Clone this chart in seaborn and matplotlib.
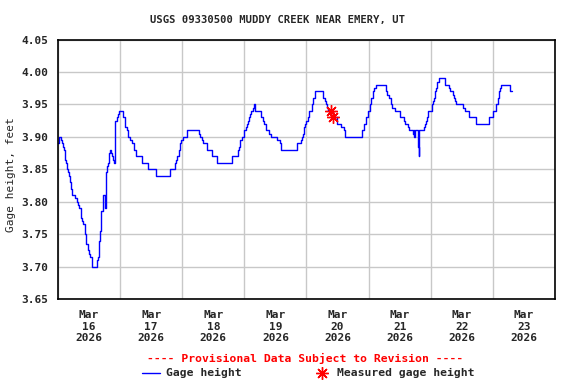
import pandas as pd
import seaborn as sns
import matplotlib.pyplot as plt
import matplotlib.dates as mdates
from matplotlib.lines import Line2D

# Gage height: hours after 2026-03-16 00:00, feet
gage_hours = [0, 0.3, 1.0, 1.5, 2.0, 2.3, 2.6, 3.1, 3.3, 3.7, 4.1, 4.5, 4.7, 4.9, 5.3, 5.6,
              6.7, 7.2, 7.7, 8.2, 8.7, 9.0, 9.4, 9.8, 10.3, 10.4, 10.8, 11.0, 11.4, 11.7,
              12.1, 12.3, 13.1, 13.3, 15.1, 15.4, 15.7, 15.9, 16.4, 16.7, 17.2, 18.1, 18.5,
              18.7, 19.0, 19.5, 19.8, 20.0, 20.5, 20.8, 21.3, 21.6, 21.9, 22.2, 22.6, 23.0,
              23.5, 25.0, 25.7, 26.0, 26.6, 26.9, 28.0, 28.6, 29.3, 30.0, 30.3, 32.3, 34.8,
              37.8, 43.2, 45.2, 45.5, 46.1, 46.6, 47.2, 47.6, 48.1, 49.8, 50.0, 54.4, 54.9,
              55.8, 56.2, 57.4, 59.5, 61.6, 67.1, 67.3, 69.4, 69.9, 70.3, 70.9, 71.7, 72.5,
              72.9, 73.3, 73.6, 74.2, 74.7, 75.4, 75.8, 76.1, 76.3, 78.4, 79.3, 79.7, 80.4,
              81.6, 82.1, 84.6, 85.6, 86.0, 86.3, 92.5, 92.8, 93.9, 94.3, 94.8, 95.2, 95.6,
              96.0, 96.4, 96.8, 98.3, 98.7, 99.1, 102.5, 103.0, 103.4, 103.9, 104.3, 106.1,
              107.7, 109.3, 110.6, 111.0, 117.4, 118.1, 118.4, 118.8, 119.1, 119.7, 120.6,
              121.0, 121.7, 122.2, 123.0, 126.7, 127.2, 128.0, 128.6, 129.2, 130.1, 132.0,
              133.5, 133.9, 135.2, 135.5, 137.0, 137.4, 137.7, 138.1, 139.0, 139.3, 139.5,
              141.3, 141.7, 142.1, 142.6, 143.1, 144.4, 144.9, 145.3, 145.7, 145.9, 146.4,
              147.1, 149.5, 151.0, 151.3, 152.5, 152.8, 153.4, 153.8, 156.6, 157.4, 158.7,
              161.4, 166.4, 167.9, 169.3, 169.8, 170.3, 170.7, 171.2, 174.6, 175.5]
gage_values = [3.89, 3.90, 3.895, 3.89, 3.885, 3.88, 3.865, 3.86, 3.85, 3.845, 3.84, 3.835, 3.83, 3.82, 3.815, 3.81,
               3.805, 3.80, 3.795, 3.79, 3.785, 3.775, 3.77, 3.765, 3.76, 3.75, 3.745, 3.735, 3.73, 3.725,
               3.72, 3.715, 3.71, 3.70, 3.71, 3.715, 3.725, 3.74, 3.755, 3.785, 3.81, 3.79, 3.84,
               3.845, 3.855, 3.86, 3.875, 3.88, 3.875, 3.87, 3.865, 3.86, 3.92, 3.925, 3.93, 3.935,
               3.94, 3.93, 3.92, 3.915, 3.91, 3.90, 3.895, 3.89, 3.88, 3.875, 3.87, 3.86, 3.85,
               3.84, 3.85, 3.86, 3.865, 3.87, 3.88, 3.89, 3.895, 3.90, 3.905, 3.91, 3.905, 3.90,
               3.895, 3.89, 3.88, 3.87, 3.86, 3.865, 3.87, 3.88, 3.885, 3.895, 3.90, 3.91, 3.915,
               3.92, 3.925, 3.93, 3.935, 3.94, 3.945, 3.95, 3.945, 3.94, 3.93, 3.925, 3.92, 3.91,
               3.905, 3.90, 3.895, 3.89, 3.885, 3.88, 3.89, 3.89, 3.895, 3.90, 3.905, 3.915, 3.92,
               3.925, 3.93, 3.94, 3.95, 3.96, 3.97, 3.96, 3.955, 3.95, 3.945, 3.94, 3.93,
               3.92, 3.915, 3.91, 3.90, 3.91, 3.915, 3.92, 3.925, 3.93, 3.94, 3.95,
               3.96, 3.97, 3.975, 3.98, 3.97, 3.965, 3.96, 3.95, 3.945, 3.94, 3.93,
               3.925, 3.92, 3.915, 3.91, 3.905, 3.91, 3.90, 3.91, 3.885, 3.87, 3.91,
               3.915, 3.92, 3.925, 3.93, 3.94, 3.95, 3.955, 3.96, 3.97, 3.975, 3.985,
               3.99, 3.98, 3.975, 3.97, 3.965, 3.96, 3.955, 3.95, 3.945, 3.94, 3.93,
               3.92, 3.93, 3.94, 3.95, 3.96, 3.97, 3.975, 3.98, 3.97, 3.97]

# Measured gage height (field visits)
meas_hours = [105.3, 106.1]
meas_values = [3.94, 3.93]

day_labels = ['Mar\n16\n2026', 'Mar\n17\n2026', 'Mar\n18\n2026', 'Mar\n19\n2026',
              'Mar\n20\n2026', 'Mar\n21\n2026', 'Mar\n22\n2026', 'Mar\n23\n2026']

start = pd.Timestamp('2026-03-16')
df = pd.DataFrame({'time': start + pd.to_timedelta(gage_hours, unit='h'), 'height': gage_values})
dm = pd.DataFrame({'time': start + pd.to_timedelta(meas_hours, unit='h'), 'height': meas_values})

sns.set_style('white')
plt.rcParams['font.family'] = ['DejaVu Sans Mono']
plt.rcParams['font.weight'] = 'bold'

fig = plt.figure(figsize=(5.76, 3.84), dpi=100)
ax = fig.add_axes([0.1007, 0.2214, 0.8628, 0.6757])

sns.lineplot(data=df, x='time', y='height', ax=ax, color='#0000ff', linewidth=1,
             drawstyle='steps-post', estimator=None, sort=False)
ax.plot(dm['time'], dm['height'], linestyle='none', marker=(8, 2, 0), markersize=9,
        markeredgewidth=1, color='#ff0000')

ax.set_xlim(start, start + pd.Timedelta(days=8))
ax.set_ylim(3.65, 4.05)
ax.set_yticks([3.65, 3.70, 3.75, 3.80, 3.85, 3.90, 3.95, 4.00, 4.05])
ax.yaxis.set_major_formatter(plt.FormatStrFormatter('%.2f'))

# gridlines at midnight, labels at noon
ax.set_xticks(pd.date_range(start, periods=9, freq='D'))
ax.set_xticklabels([])
ax.set_xticks(pd.date_range(start + pd.Timedelta(hours=12), periods=8, freq='D'), minor=True)
ax.set_xticklabels(day_labels, minor=True)
ax.tick_params(axis='x', which='both', length=0, pad=8, labelsize=8)
ax.tick_params(axis='y', length=0, pad=7, labelsize=8)

ax.grid(True, which='major', color='#c8c8c8', linewidth=1)
for s in ax.spines.values():
    s.set_color('black')
    s.set_linewidth(1.2)

ax.set_xlabel('')
ax.set_ylabel('Gage height, feet', fontsize=8)
ax.yaxis.set_label_coords(-0.085, 0.48)

fig.text(0.481, 0.948, 'USGS 09330500 MUDDY CREEK NEAR EMERY, UT', ha='center', va='center', fontsize=7.6)
fig.text(0.53, 0.0677, '---- Provisional Data Subject to Revision ----', ha='center', va='center',
         fontsize=8.2, color='#ff0000')

# legend row drawn by hand
fig.add_artist(Line2D([142 / 576, 160 / 576], [0.0286, 0.0286], color='#0000ff', linewidth=1))
fig.text(166 / 576, 0.0286, 'Gage height', ha='left', va='center', fontsize=8.2)
fig.add_artist(Line2D([322 / 576], [0.0286], marker=(8, 2, 0), markersize=9, markeredgewidth=1,
                      color='#ff0000', linestyle='none'))
fig.text(337 / 576, 0.0286, 'Measured gage height', ha='left', va='center', fontsize=8.2)

fig.savefig('out.png', dpi=100)
